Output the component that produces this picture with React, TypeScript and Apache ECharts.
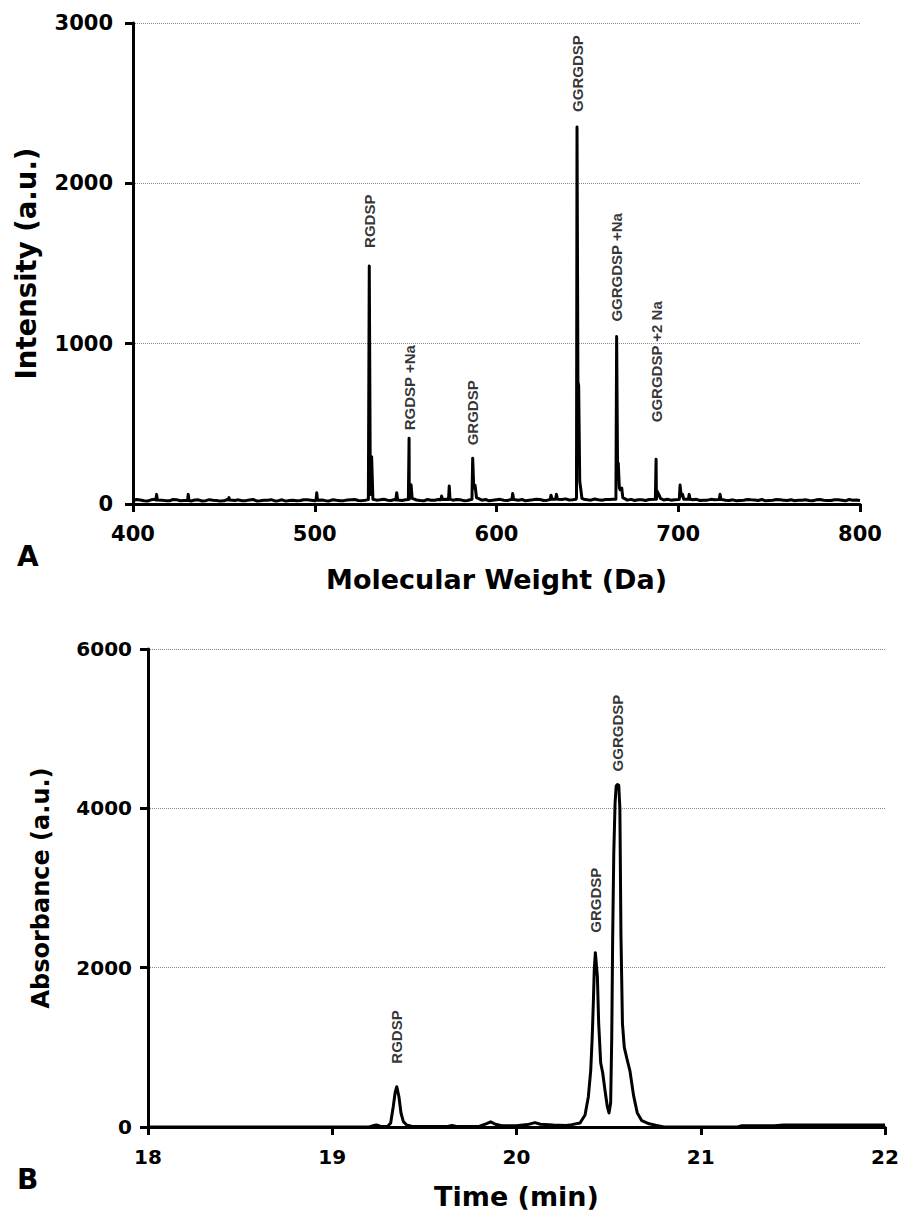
import React, { useEffect, useRef } from "react";
import * as echarts from "echarts";

// ---------- Panel A: mass spectrum ----------
const massTicksA = [400, 500, 600, 700, 800];
const intensityTicksA = [0, 1000, 2000, 3000];

// baseline noise, every 4 Da
const baselineMzA = [
  400, 404, 408, 412, 416, 420, 424, 428, 432, 436, 440, 444, 448, 452, 456, 460, 464, 468, 472, 476,
  480, 484, 488, 492, 496, 500, 504, 508, 512, 516, 520, 524, 528, 532, 536, 540, 544, 548, 552, 556,
  560, 564, 568, 572, 576, 580, 584, 588, 592, 596, 600, 604, 608, 612, 616, 620, 624, 628, 632, 636,
  640, 644, 648, 652, 656, 660, 664, 668, 672, 676, 680, 684, 688, 692, 696, 700, 704, 708, 712, 716,
  720, 724, 728, 732, 736, 740, 744, 748, 752, 756, 760, 764, 768, 772, 776, 780, 784, 788, 792, 796, 800,
];
const baselineIntA = [
  22, 25, 18, 30, 24, 20, 27, 22, 19, 26, 21, 24, 18, 28, 22, 20, 25, 19, 23, 27,
  21, 18, 24, 22, 26, 20, 25, 19, 23, 21, 27, 22, 24, 30, 26, 24, 28, 22, 30, 25,
  20, 24, 28, 30, 24, 26, 22, 105, 24, 20, 26, 23, 28, 24, 20, 26, 28, 24, 30, 28,
  25, 40, 30, 24, 26, 28, 30, 90, 24, 22, 26, 28, 30, 25, 24, 28, 30, 26, 22, 24,
  26, 28, 22, 20, 24, 26, 22, 20, 24, 26, 22, 20, 24, 22, 26, 24, 22, 26, 20, 24, 22,
];

// extra noise points between the 4-Da baseline points
const noisePointsA: [number, number][] = [
  [402, 28], [406, 20], [410, 26], [418, 21], [422, 28], [426, 20], [434, 25], [438, 19], [442, 27],
  [446, 22], [450, 20], [458, 26], [462, 21], [466, 28], [470, 20], [474, 24], [478, 19], [482, 26],
  [486, 22], [490, 20], [494, 27], [498, 23], [506, 21], [510, 27], [514, 20], [518, 25], [522, 28],
  [526, 21], [534, 24], [538, 30], [542, 22], [550, 27], [558, 22], [562, 28], [566, 24], [578, 28],
  [582, 21], [594, 28], [598, 23], [602, 29], [606, 22], [614, 28], [618, 24], [622, 30], [626, 22],
  [638, 32], [642, 27], [650, 26], [654, 31], [658, 24], [662, 28], [674, 29], [678, 26], [682, 22],
  [694, 30], [698, 26], [710, 29], [714, 24], [718, 29], [726, 24], [730, 26], [734, 22], [738, 28],
  [742, 25], [746, 28], [750, 22], [754, 28], [758, 24], [762, 27], [766, 23], [770, 26], [774, 20],
  [778, 28], [782, 22], [786, 27], [790, 23], [794, 28], [798, 25],
];

// peak spikes [m/z, intensity]
const peakPointsA: [number, number][] = [
  [412.6, 25], [413.0, 60], [413.4, 25],
  [430.0, 22], [430.4, 60], [430.8, 22],
  [452.4, 25], [452.8, 40], [453.2, 25],
  [500.7, 22], [501.1, 70], [501.5, 24],
  [529.5, 28], [530.0, 1485], [530.6, 60], [531.3, 295],
  [544.6, 25], [545.1, 70], [545.6, 25],
  [551.5, 28], [551.9, 410], [552.5, 60], [553.0, 120], [553.6, 35],
  [569.4, 26], [569.8, 50], [570.2, 28],
  [573.6, 28], [574.0, 112], [574.4, 30],
  [586.5, 30], [586.9, 285], [587.5, 100], [588.2, 117], [589.0, 40],
  [608.5, 28], [608.9, 65], [609.4, 28],
  [629.5, 28], [630.0, 55], [630.5, 30], [632.5, 30], [633.0, 60], [633.5, 30],
  [643.8, 30], [644.3, 2352], [644.8, 760], [645.2, 740], [645.8, 140], [646.4, 90], [647.0, 35],
  [665.7, 30], [666.1, 1044], [666.6, 240], [667.0, 254], [667.6, 100], [668.9, 100], [669.5, 40],
  [687.4, 30], [687.8, 279], [688.4, 80], [689.6, 52], [690.2, 35],
  [700.6, 30], [701.0, 118], [701.6, 50], [702.4, 60], [703.0, 30],
  [705.6, 30], [706.0, 60], [706.5, 30],
  [722.6, 28], [723.0, 61], [723.5, 28],
];

const peakNamesA = ["RGDSP", "RGDSP +Na", "GRGDSP", "GGRGDSP", "GGRGDSP +Na", "GGRGDSP +2 Na"];
const peakMzA = [530.0, 551.9, 586.9, 644.3, 666.1, 687.8];
const peakTopA = [1485, 410, 285, 2352, 1044, 279];

// ---------- Panel B: chromatogram ----------
const timeTicksB = [18, 19, 20, 21, 22];
const absTicksB = [0, 2000, 4000, 6000];

const chromTimeB = [
  18.0, 19.2, 19.22, 19.24, 19.26, 19.3, 19.317, 19.331, 19.341, 19.35, 19.362, 19.373, 19.386, 19.404,
  19.43, 19.5, 19.62, 19.65, 19.68, 19.8, 19.835, 19.86, 19.885, 19.92, 20.0, 20.06, 20.1, 20.13, 20.2,
  20.27, 20.3, 20.345, 20.372, 20.39, 20.403, 20.411, 20.417, 20.422, 20.428, 20.439, 20.446, 20.457,
  20.468, 20.48, 20.493, 20.502, 20.511, 20.517, 20.522, 20.528, 20.535, 20.541, 20.548, 20.555, 20.561,
  20.567, 20.575, 20.585, 20.6, 20.616, 20.635, 20.655, 20.68, 20.72, 20.76, 20.8, 21.2, 21.22, 21.4,
  21.45, 22.0,
];
const chromAbsB = [
  0, 0, 15, 25, 10, 5, 50, 255, 427, 506, 380, 176, 67, 25,
  10, 5, 5, 20, 5, 10, 40, 65, 35, 15, 15, 30, 55, 35, 25,
  20, 30, 50, 150, 380, 715, 1134, 1556, 1970, 2188, 1887, 1305, 803,
  678, 464, 255, 176, 300, 1134, 2389, 3438, 4067, 4280, 4300, 4290, 4000,
  2400, 1300, 1000, 850, 700, 400, 180, 80, 40, 20, 0, 0, 15, 15,
  25, 25,
];

const peakNamesB = ["RGDSP", "GRGDSP", "GGRGDSP"];
const peakTimeB = [19.35, 20.428, 20.548];
const peakTopB = [506, 2188, 4300];

const labelGapA = [18, 8, 13, 15, 15, 37];
const labelGapB = [23, 20, 13];

const TICK_FONT = "DejaVu Sans";
const LABEL_FONT = "Liberation Sans";

export default function App() {
  const ref = useRef<HTMLDivElement>(null);

  useEffect(() => {
    document.body.style.margin = "0";
    if (!ref.current) return;
    const chart = echarts.init(ref.current, null, { renderer: "svg" });

    const spectrumA = [
      ...baselineMzA.map((m, i) => [m, baselineIntA[i]] as [number, number]),
      ...noisePointsA,
      ...peakPointsA,
    ].sort((a, b) => a[0] - b[0]);
    const chromB = chromTimeB.map((t, i) => [t, chromAbsB[i]]);

    const axisLine = { show: true, onZero: false, lineStyle: { color: "#000", width: 3 } };
    const axisTick = { show: true, inside: false, length: 8, lineStyle: { color: "#000", width: 3 } };
    const tickLabel = (size: number, margin: number) => ({
      color: "#000",
      fontFamily: TICK_FONT,
      fontWeight: "bold" as const,
      fontSize: size,
      margin,
      formatter: (v: number) => String(v),
    });
    const titleStyle = (size: number) => ({
      color: "#000",
      fontFamily: TICK_FONT,
      fontWeight: "bold" as const,
      fontSize: size,
    });
    const gridLine = { show: true, lineStyle: { color: "#888", type: "dotted" as const, width: 1 } };

    const labelStyle = {
      show: true,
      formatter: "{b}",
      position: "top" as const,
      rotate: 90,
      align: "left" as const,
      verticalAlign: "middle" as const,
      color: "#000",
      fontFamily: LABEL_FONT,
      fontWeight: "bold" as const,
      fontSize: 15,
    };

    chart.setOption({
      animation: false,
      backgroundColor: "#fff",
      grid: [
        { left: 133, top: 23, width: 727, height: 481 },
        { left: 148, top: 649, width: 737, height: 478 },
      ],
      xAxis: [
        {
          gridIndex: 0,
          type: "value",
          min: massTicksA[0],
          max: massTicksA[massTicksA.length - 1],
          interval: massTicksA[1] - massTicksA[0],
          axisLine,
          axisTick,
          axisLabel: tickLabel(21, 19),
          splitLine: { show: false },
          name: "Molecular Weight (Da)",
          nameLocation: "middle",
          nameGap: 62,
          nameTextStyle: titleStyle(27),
        },
        {
          gridIndex: 1,
          type: "value",
          min: timeTicksB[0],
          max: timeTicksB[timeTicksB.length - 1],
          interval: timeTicksB[1] - timeTicksB[0],
          axisLine,
          axisTick,
          axisLabel: tickLabel(20, 20),
          splitLine: { show: false },
          name: "Time (min)",
          nameLocation: "middle",
          nameGap: 56,
          nameTextStyle: titleStyle(27),
        },
      ],
      yAxis: [
        {
          gridIndex: 0,
          type: "value",
          min: intensityTicksA[0],
          max: intensityTicksA[intensityTicksA.length - 1],
          interval: intensityTicksA[1] - intensityTicksA[0],
          axisLine,
          axisTick,
          axisLabel: tickLabel(21, 20),
          splitLine: gridLine,
          name: "Intensity (a.u.)",
          nameLocation: "middle",
          nameGap: 93,
          nameTextStyle: titleStyle(27.5),
        },
        {
          gridIndex: 1,
          type: "value",
          min: absTicksB[0],
          max: absTicksB[absTicksB.length - 1],
          interval: absTicksB[1] - absTicksB[0],
          axisLine,
          axisTick,
          axisLabel: tickLabel(20, 16),
          splitLine: gridLine,
          name: "Absorbance (a.u.)",
          nameLocation: "middle",
          nameGap: 95,
          nameTextStyle: titleStyle(24),
        },
      ],
      series: [
        {
          type: "line",
          xAxisIndex: 0,
          yAxisIndex: 0,
          data: spectrumA,
          showSymbol: false,
          symbol: "none",
          lineStyle: { color: "#000", width: 3, join: "round" },
          z: 3,
        },
        {
          type: "scatter",
          xAxisIndex: 0,
          yAxisIndex: 0,
          symbolSize: 0,
          data: peakNamesA.map((n, i) => ({
            name: n,
            value: [peakMzA[i], peakTopA[i]],
            label: { distance: labelGapA[i] },
          })),
          label: labelStyle,
          z: 4,
        },
        {
          type: "line",
          xAxisIndex: 1,
          yAxisIndex: 1,
          data: chromB,
          showSymbol: false,
          symbol: "none",
          lineStyle: { color: "#000", width: 3, join: "round" },
          z: 3,
        },
        {
          type: "scatter",
          xAxisIndex: 1,
          yAxisIndex: 1,
          symbolSize: 0,
          data: peakNamesB.map((n, i) => ({
            name: n,
            value: [peakTimeB[i], peakTopB[i]],
            label: { distance: labelGapB[i] },
          })),
          label: labelStyle,
          z: 4,
        },
      ],
      graphic: [
        {
          type: "text",
          left: 17,
          top: 542,
          style: { text: "A", fill: "#000", font: "bold 28px 'DejaVu Sans'" },
        },
        {
          type: "text",
          left: 17,
          top: 1165,
          style: { text: "B", fill: "#000", font: "bold 28px 'DejaVu Sans'" },
        },
      ],
    });

    return () => chart.dispose();
  }, []);

  return <div ref={ref} style={{ width: 902, height: 1215 }} />;
}
